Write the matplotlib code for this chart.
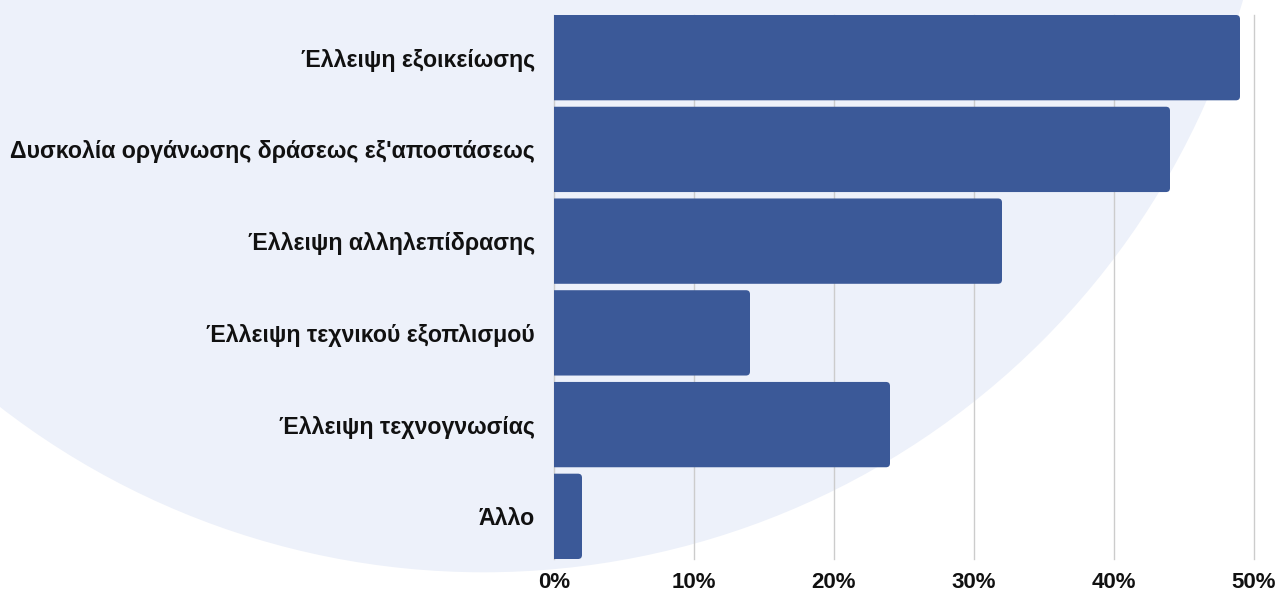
import matplotlib
matplotlib.use("Agg")
import matplotlib.pyplot as plt
from matplotlib.patches import Circle, FancyBboxPatch

# Survey answers (percent)
categories = [
    "Έλλειψη εξοικείωσης",
    "Δυσκολία οργάνωσης δράσεως εξ'αποστάσεως",
    "Έλλειψη αλληλεπίδρασης",
    "Έλλειψη τεχνικού εξοπλισμού",
    "Έλλειψη τεχνογνωσίας",
    "Άλλο",
]
values = [49, 44, 32, 14, 24, 2]
x_ticks = [0, 10, 20, 30, 40, 50]
x_tick_labels = ["0%", "10%", "20%", "30%", "40%", "50%"]

bar_color = "#3b5998"
bar_height = 0.93

plt.rcParams['font.family'] = ['Liberation Sans', 'DejaVu Sans']

fig = plt.figure(figsize=(12.86, 5.94), dpi=100)

# big pale circle in the background (figure inches)
bg = Circle((4.836, 8.117), 7.9, transform=fig.dpi_scale_trans,
            facecolor="#edf1fa", edgecolor="none", zorder=-10)
fig.patches.append(bg)

ax = fig.add_axes([554 / 1286, 1 - 559 / 594, 700 / 1286, 544 / 594])
ax.set_facecolor("none")

ypos = list(range(len(categories)))
ax.set_xlim(0, 50)
ax.set_ylim(len(categories) - 1 + bar_height / 2, -bar_height / 2)

# rounded bars (right corners rounded, left side clipped at 0)
px_x = 700 / 50
px_y = 544 / (len(categories) - 1 + bar_height)
r = 4 / px_x
for y, v in zip(ypos, values):
    box = FancyBboxPatch((-2, y - bar_height / 2), v + 2, bar_height,
                         boxstyle=f"round,pad=0,rounding_size={r}",
                         mutation_aspect=px_x / px_y,
                         facecolor=bar_color, edgecolor="none", zorder=2)
    ax.add_patch(box)

ax.set_xticks(x_ticks)
ax.set_xticklabels(x_tick_labels, fontsize=16, fontweight="bold", color="#111111")
ax.set_yticks(ypos)
ax.set_yticklabels(categories, fontsize=16.7, fontweight="bold", color="#111111")
ax.tick_params(axis="both", length=0)
ax.tick_params(axis="y", pad=13.5)
ax.tick_params(axis="x", pad=9)
ax.grid(axis="x", color="#cccccc", linewidth=1, zorder=1)
for gl in ax.get_xgridlines():
    gl.set_clip_on(False)
ax.set_axisbelow(True)
for s in ax.spines.values():
    s.set_visible(False)

fig.savefig("out.png", dpi=100)
